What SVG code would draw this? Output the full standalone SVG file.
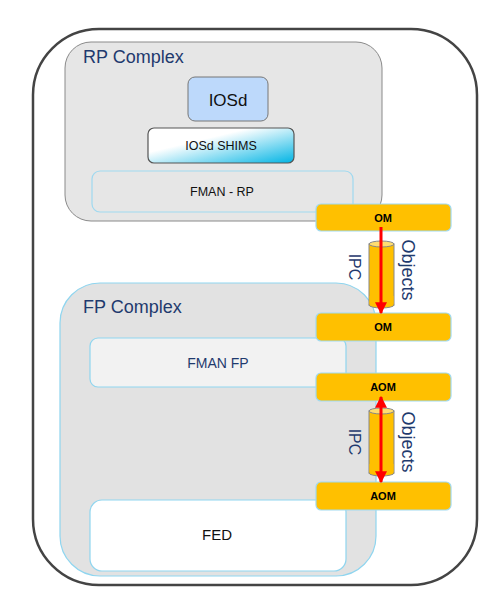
<svg xmlns="http://www.w3.org/2000/svg" width="502" height="616" viewBox="0 0 502 616">
<defs>
<linearGradient id="shim" x1="0" y1="0" x2="1" y2="1">
<stop offset="0" stop-color="#ffffff"/>
<stop offset="0.35" stop-color="#ffffff"/>
<stop offset="1" stop-color="#00b4e4"/>
</linearGradient>
<marker id="ah" viewBox="0 0 10 10" refX="9" refY="5" markerWidth="4" markerHeight="4" orient="auto-start-reverse">
<path d="M0,0 L10,5 L0,10 z" fill="#ff0000"/>
</marker>
</defs>
<style>
.cx{font-family:"Liberation Sans",Arial,sans-serif;fill:#1f3a6e;}
.t{font-family:"Liberation Sans",Arial,sans-serif;fill:#111;text-anchor:middle;}
.ob{fill:#ffc000;stroke:#9fd9f0;stroke-width:1.2;}
.obt{font-family:"Liberation Sans",Arial,sans-serif;font-weight:bold;font-size:11px;fill:#000;text-anchor:middle;}
.cyl{fill:#ffc000;stroke:#888;stroke-width:1;}
.cylt{fill:#ffdd70;stroke:#888;stroke-width:1;}
.arr{stroke:#ff0000;stroke-width:3;fill:none;}
.lb{fill:#9fd9f0;}
</style>
<g id="frame">
<rect x="33" y="29" width="444" height="556" rx="66" ry="66" fill="#ffffff" stroke="#444" stroke-width="2.5"/>
</g>
<g id="rp-complex">
<rect x="65" y="42" width="317" height="179" rx="26" ry="26" fill="#e6e6e6" stroke="#8a8a8a" stroke-width="1"/>
<text class="cx" x="83" y="63" font-size="18">RP Complex</text>
</g>
<g id="iosd">
<rect x="188" y="77" width="80" height="44" rx="7" ry="7" fill="#bdd9fb" stroke="#777" stroke-width="1"/>
<text class="t" x="228" y="106" font-size="17">IOSd</text>
</g>
<g id="iosd-shims">
<rect x="148" y="128" width="146" height="35" rx="6" ry="6" fill="url(#shim)" stroke="#555" stroke-width="1.2"/>
<text class="t" x="221" y="150" font-size="12.5">IOSd SHIMS</text>
</g>
<g id="fman-rp">
<rect x="92" y="171" width="261" height="41" rx="8" ry="8" fill="#e6e6e6" stroke="#9fd9f0" stroke-width="1.2"/>
<text class="t" x="222" y="196" font-size="12.5">FMAN - RP</text>
</g>
<g id="fp-complex">
<rect x="60" y="283" width="316" height="293" rx="40" ry="40" fill="#e2e2e2" stroke="#8fd5ef" stroke-width="1.2"/>
<text class="cx" x="83" y="313" font-size="18">FP Complex</text>
</g>
<g id="fman-fp">
<rect x="90" y="338" width="256" height="49" rx="8" ry="8" fill="#f2f2f2" stroke="#8fd5ef" stroke-width="1.2"/>
<text class="cx" x="218" y="368" font-size="14" text-anchor="middle">FMAN FP</text>
</g>
<g id="fed">
<rect x="90" y="500" width="256" height="71" rx="12" ry="12" fill="#ffffff" stroke="#8fd5ef" stroke-width="1.2"/>
<text class="t" x="217" y="540" font-size="15">FED</text>
</g>
<g id="ipc-1">
<rect class="cyl" x="369" y="244" width="25" height="61"/>
<ellipse class="cyl" cx="381.5" cy="305" rx="12.5" ry="3"/>
<rect x="369.5" y="296" width="24" height="9" fill="#ffc000"/>
<ellipse class="cylt" cx="381.5" cy="244" rx="12.5" ry="3"/>
<text class="cx" font-size="16" text-anchor="middle" transform="translate(349,267) rotate(90)">IPC</text>
<text class="cx" font-size="18" text-anchor="middle" transform="translate(402,270) rotate(90)">Objects</text>
</g>
<g id="ipc-2">
<rect class="cyl" x="369" y="411" width="25" height="62"/>
<ellipse class="cyl" cx="381.5" cy="473" rx="12.5" ry="3"/>
<rect x="369.5" y="464" width="24" height="9" fill="#ffc000"/>
<ellipse class="cylt" cx="381.5" cy="411" rx="12.5" ry="3"/>
<text class="cx" font-size="16" text-anchor="middle" transform="translate(349,442) rotate(90)">IPC</text>
<text class="cx" font-size="18" text-anchor="middle" transform="translate(402,442) rotate(90)">Objects</text>
</g>
<g id="om-rp">
<rect class="ob" x="316" y="204" width="135" height="27" rx="5" ry="5"/>
<text class="obt" x="383" y="222">OM</text>
</g>
<g id="om-fp">
<rect class="ob" x="316" y="313" width="135" height="28" rx="5" ry="5"/>
<text class="obt" x="383" y="331">OM</text>
</g>
<g id="aom-1">
<rect class="ob" x="316" y="373" width="135" height="28" rx="5" ry="5"/>
<text class="obt" x="383" y="391">AOM</text>
</g>
<g id="aom-2">
<rect class="ob" x="316" y="482" width="135" height="28" rx="5" ry="5"/>
<text class="obt" x="383" y="500">AOM</text>
</g>
<g id="connectors">
<line class="arr" x1="381" y1="227" x2="381" y2="313" marker-end="url(#ah)"/>
<line class="arr" x1="381" y1="397" x2="381" y2="482" marker-start="url(#ah)" marker-end="url(#ah)"/>
</g>
</svg>
